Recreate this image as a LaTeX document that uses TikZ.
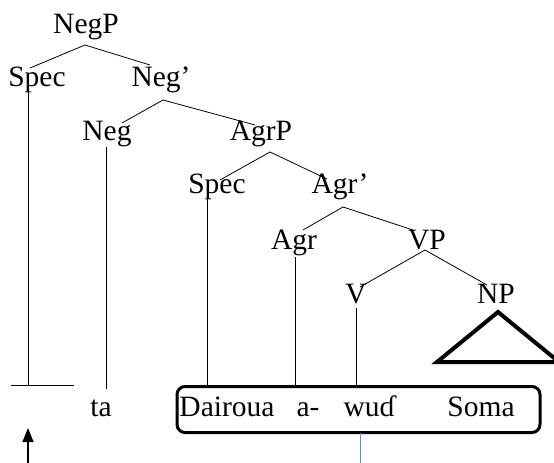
\documentclass[tikz,border=0pt]{standalone}
\usepackage{fontspec}
\setmainfont{Liberation Serif}
\usetikzlibrary{arrows.meta,positioning}

\begin{document}
\begin{tikzpicture}[
    x=1pt, y=-1pt,
    every node/.style={font=\fontsize{29.5}{34}\selectfont, inner sep=0pt},
    label/.style={anchor=base},
    branch/.style={line width=0.8pt},
    trace/.style={line width=0.9pt}
]
\useasboundingbox (0,0) rectangle (554,463);

% Category labels
\node[label] (negp)   at (86,33)   {NegP};
\node[label] (spec1)  at (37,86)   {Spec};
\node[label] (negbar) at (161,86)  {Neg'};
\node[label] (neg)    at (107,140) {Neg};
\node[label] (agrp)   at (261,140) {AgrP};
\node[label] (spec2)  at (217,193) {Spec};
\node[label] (agrbar) at (340,193) {Agr'};
\node[label] (agr)    at (294,249) {Agr};
\node[label] (vp)     at (427,249) {VP};
\node[label] (v)      at (356,303) {V};
\node[label] (np)     at (496,303) {NP};

% Words
\node[label] (ta)      at (101,416) {ta};
\node[label] (dairoua) at (227,416) {Dairoua};
\node[label] (agrmorph) at (308,416) {a-};
\node[label] (wud)     at (369,416) {wuɗ};
\node[label] (soma)    at (481,416) {Soma};
\node[draw, line width=3pt, rounded corners=8pt, minimum width=363pt,
      minimum height=46pt] (wordbox) at (358.5,409.5) {};

% Branch points
\coordinate (negp-b)   at (85,45);
\coordinate (negbar-b) at (163,100);
\coordinate (agrp-b)   at (270,152);
\coordinate (agrbar-b) at (343,207);
\coordinate (vp-b)     at (425,250);

% Branches
\draw[branch] (negp-b) -- (30,68);
\draw[branch] (negp-b) -- (150,65);
\draw[branch] (negbar-b) -- (122,123);
\draw[branch] (negbar-b) -- (255,125);
\draw[branch] (agrp-b) -- (220,180);
\draw[branch] (agrp-b) -- (327,179);
\draw[branch] (agrbar-b) -- (303,230);
\draw[branch] (agrbar-b) -- (413,230);
\draw[branch] (vp-b) -- (360,287);
\draw[branch] (vp-b) -- (487,285);

% NP triangle
\draw[line width=4pt, line join=miter] (437,362) -- (498,312) -- (559,362) -- cycle;

% Empty slot under the first Spec
\coordinate (slot-l) at (11,385);
\coordinate (slot-r) at (74,385);
\draw[trace] (slot-l) -- (slot-r);
\draw[trace] (28,92) -- (28,385);

% Lines down to the words
\draw[trace] (106,147) -- (106,389);
\draw[trace] (207,197) -- (207,386);
\draw[trace] (295,257) -- (295,386);
\draw[trace] (356,308) -- (356,386);

% Arrow up to the slot
\coordinate (arrow-tail) at (28,463);
\draw[line width=1.2pt, -{Triangle[width=11pt,length=14pt]}] (arrow-tail) -- (28,428);

% Blue line under the box
\draw[color={rgb,255:red,91;green,141;blue,214}, line width=0.8pt]
    (360,433) -- (360,463);

\end{tikzpicture}
\end{document}
